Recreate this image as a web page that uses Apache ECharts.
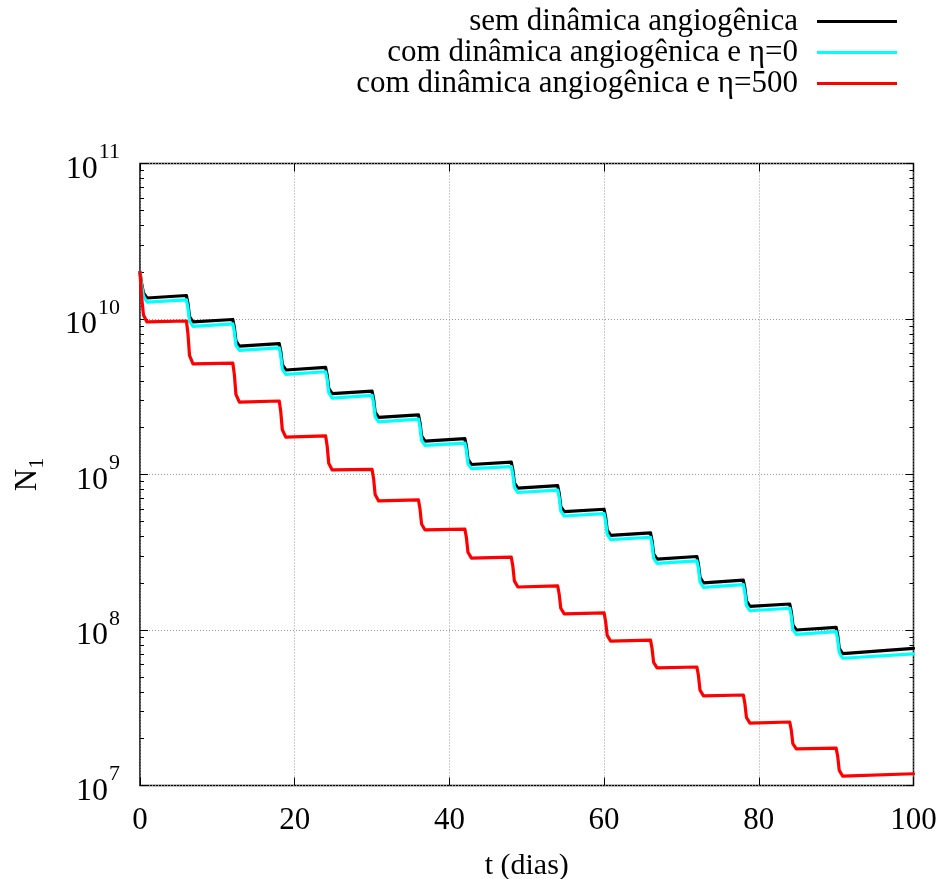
<!DOCTYPE html>
<html><head><meta charset="utf-8">
<script src="https://cdn.jsdelivr.net/npm/echarts@6/dist/echarts.min.js"></script>
<style>html,body{margin:0;padding:0;background:#fff}#c{width:944px;height:879px}</style>
</head><body><div id="c"></div>
<script>
// time (days)
const tDays = [0, 0.2, 0.45, 0.9,
  6, 6.2, 6.4, 6.85, 12, 12.2, 12.4, 12.85, 18, 18.2, 18.4, 18.85,
  24, 24.2, 24.4, 24.85, 30, 30.2, 30.4, 30.85, 36, 36.2, 36.4, 36.85,
  42, 42.2, 42.4, 42.85, 48, 48.2, 48.4, 48.85, 54, 54.2, 54.4, 54.85,
  60, 60.2, 60.4, 60.85, 66, 66.2, 66.4, 66.85, 72, 72.2, 72.4, 72.85,
  78, 78.2, 78.4, 78.85, 84, 84.2, 84.4, 84.85, 90, 90.2, 90.4, 90.85, 100];

// N1 without angiogenic dynamics
const semDinamica = [2.00e10, 1.702e10, 1.469e10, 1.365e10,
  1.416e10, 1.259e10, 1.035e10, 9.57e9,
  9.93e9, 8.83e9, 7.24e9, 6.70e9,
  6.95e9, 6.18e9, 5.08e9, 4.70e9,
  4.88e9, 4.35e9, 3.58e9, 3.31e9,
  3.44e9, 3.06e9, 2.52e9, 2.33e9,
  2.42e9, 2.15e9, 1.77e9, 1.64e9,
  1.70e9, 1.52e9, 1.25e9, 1.16e9,
  1.20e9, 1.07e9, 8.83e8, 8.17e8,
  8.47e8, 7.55e8, 6.22e8, 5.77e8,
  5.98e8, 5.32e8, 4.39e8, 4.06e8,
  4.21e8, 3.75e8, 3.09e8, 2.86e8,
  2.97e8, 2.64e8, 2.18e8, 2.01e8,
  2.09e8, 1.86e8, 1.54e8, 1.42e8,
  1.47e8, 1.31e8, 1.08e8, 1.00e8,
  1.04e8, 9.25e7, 7.62e7, 7.05e7,
  7.62e7];

// N1 with angiogenic dynamics, eta = 0
const comDinamicaEta0 = [2.00e10, 1.652e10, 1.406e10, 1.285e10,
  1.328e10, 1.180e10, 9.70e9, 8.97e9,
  9.31e9, 8.28e9, 6.79e9, 6.28e9,
  6.52e9, 5.79e9, 4.76e9, 4.41e9,
  4.58e9, 4.08e9, 3.36e9, 3.10e9,
  3.23e9, 2.87e9, 2.36e9, 2.18e9,
  2.27e9, 2.02e9, 1.66e9, 1.54e9,
  1.59e9, 1.43e9, 1.17e9, 1.09e9,
  1.125e9, 1.00e9, 8.28e8, 7.66e8,
  7.94e8, 7.08e8, 5.83e8, 5.41e8,
  5.61e8, 4.99e8, 4.12e8, 3.81e8,
  3.95e8, 3.52e8, 2.90e8, 2.68e8,
  2.78e8, 2.48e8, 2.04e8, 1.88e8,
  1.96e8, 1.74e8, 1.44e8, 1.33e8,
  1.38e8, 1.23e8, 1.01e8, 9.38e7,
  9.75e7, 8.67e7, 7.14e7, 6.58e7,
  7.02e7];

// N1 with angiogenic dynamics, eta = 500
const comDinamicaEta500 = [2.00e10, 1.39e10, 1.062e10, 9.57e9,
  9.71e9, 8.02e9, 5.83e9, 5.14e9,
  5.21e9, 4.39e9, 3.28e9, 2.92e9,
  2.97e9, 2.53e9, 1.94e9, 1.74e9,
  1.77e9, 1.52e9, 1.18e9, 1.07e9,
  1.08e9, 9.40e8, 7.43e8, 6.76e8,
  6.86e8, 6.00e8, 4.81e8, 4.40e8,
  4.46e8, 3.92e8, 3.16e8, 2.90e8,
  2.94e8, 2.58e8, 2.07e8, 1.89e8,
  1.92e8, 1.69e8, 1.38e8, 1.27e8,
  1.29e8, 1.13e8, 9.23e7, 8.49e7,
  8.61e7, 7.60e7, 6.19e7, 5.70e7,
  5.78e7, 5.08e7, 4.10e7, 3.77e7,
  3.82e7, 3.37e7, 2.74e7, 2.52e7,
  2.56e7, 2.27e7, 1.86e7, 1.72e7,
  1.74e7, 1.54e7, 1.25e7, 1.15e7,
  1.19e7];

const seriesNames = ['sem dinâmica angiogênica', 'com dinâmica angiogênica e η=0', 'com dinâmica angiogênica e η=500'];
const seriesColors = ['#000000', '#00ffff', '#ff0000'];
const xTickValues = [0, 20, 40, 60, 80, 100];
const yDecades = [1e7, 1e8, 1e9, 1e10, 1e11];

const FONT = '"Liberation Serif", "DejaVu Serif", serif';
const yMinor = [];
for (let d = 0; d < yDecades.length - 1; d++) {
  for (let m = 2; m <= 9; m++) yMinor.push(m * yDecades[d]);
}

const chart = echarts.init(document.getElementById('c'), null, {renderer: 'canvas'});

function mk(data) { return tDays.map((t, i) => [t, data[i]]); }

const baseY = {
  type: 'log', logBase: 10, min: yDecades[0], max: yDecades[yDecades.length - 1],
  axisLine: {show: false}, splitLine: {show: false}, axisLabel: {show: false},
  axisTick: {show: true, inside: true, length: 8, lineStyle: {color: '#000', width: 1}}
};

const option = {
  animation: false,
  backgroundColor: '#fff',
  textStyle: {fontFamily: FONT},
  grid: {left: 140, right: 30.5, top: 163.5, bottom: 93.5, containLabel: false, outerBoundsMode: 'none',
    show: true, borderColor: '#000', borderWidth: 1.5, backgroundColor: 'transparent'},
  legend: {
    orient: 'vertical', right: 42, top: 1, align: 'right',
    itemWidth: 80, itemHeight: 20, itemGap: 0,
    icon: 'path://M0,0 L80,0 L80,3 L0,3 Z',
    data: seriesNames.map((n, i) => ({name: n, itemStyle: {color: seriesColors[i]}})),
    textStyle: {fontFamily: FONT, fontSize: 31, lineHeight: 31, color: '#000', padding: [0, 14, 0, 0]}
  },
  xAxis: [{
    type: 'value', min: 0, max: 100, interval: 20, position: 'bottom',
    axisLine: {show: false},
    axisTick: {show: true, inside: true, length: 8, lineStyle: {color: '#000'}, customValues: xTickValues},
    axisLabel: {fontFamily: FONT, fontSize: 31, color: '#000', margin: 20, customValues: xTickValues},
    splitLine: {show: true, lineStyle: {color: '#999', type: [1, 2], width: 1}},
    name: 't (dias)', nameLocation: 'middle', nameGap: 66,
    nameTextStyle: {fontFamily: FONT, fontSize: 30, color: '#000'}
  }, {
    type: 'value', min: 0, max: 100, interval: 20, position: 'top',
    axisLine: {show: false}, axisLabel: {show: false}, splitLine: {show: false},
    axisTick: {show: true, inside: true, length: 8, lineStyle: {color: '#000'}}
  }],
  yAxis: [Object.assign({}, baseY, {
    position: 'left',
    axisTick: {show: true, inside: true, length: 8, lineStyle: {color: '#000'}, customValues: yDecades},
    axisLabel: {
      show: true, margin: 20, color: '#000', customValues: yDecades,
      formatter: v => '{b|10}{s|' + Math.round(Math.log10(v)) + '}',
      rich: {
        b: {fontFamily: FONT, fontSize: 32, color: '#000', verticalAlign: 'bottom', lineHeight: 44},
        s: {fontFamily: FONT, fontSize: 22, color: '#000', verticalAlign: 'top', lineHeight: 44, padding: [0, 0, 0, 1]}
      }
    },
    splitLine: {show: true, lineStyle: {color: '#999', type: [1, 2], width: 1}},
    name: '{n|N}{sub|1}', nameLocation: 'middle', nameGap: 92, nameRotate: 90,
    nameTextStyle: {
      rich: {
        n: {fontFamily: FONT, fontSize: 31, color: '#000', verticalAlign: 'top', lineHeight: 36},
        sub: {fontFamily: FONT, fontSize: 22, color: '#000', verticalAlign: 'bottom', lineHeight: 36}
      }
    }
  }), Object.assign({}, baseY, {
    position: 'left',
    axisTick: {show: true, inside: true, length: 4, lineStyle: {color: '#000'}, customValues: yMinor}
  }), Object.assign({}, baseY, {
    position: 'right',
    axisTick: {show: true, inside: true, length: 8, lineStyle: {color: '#000'}, customValues: yDecades}
  }), Object.assign({}, baseY, {
    position: 'right',
    axisTick: {show: true, inside: true, length: 4, lineStyle: {color: '#000'}, customValues: yMinor}
  })],
  series: [semDinamica, comDinamicaEta0, comDinamicaEta500].map((d, i) => ({
    name: seriesNames[i], type: 'line', data: mk(d), xAxisIndex: 0, yAxisIndex: 0,
    showSymbol: false, symbol: 'none', smooth: false,
    lineStyle: {color: seriesColors[i], width: 3.2, join: 'round', cap: 'round'}, itemStyle: {color: seriesColors[i]},
    z: 3 + i
  }))
};
chart.setOption(option);
</script></body></html>
